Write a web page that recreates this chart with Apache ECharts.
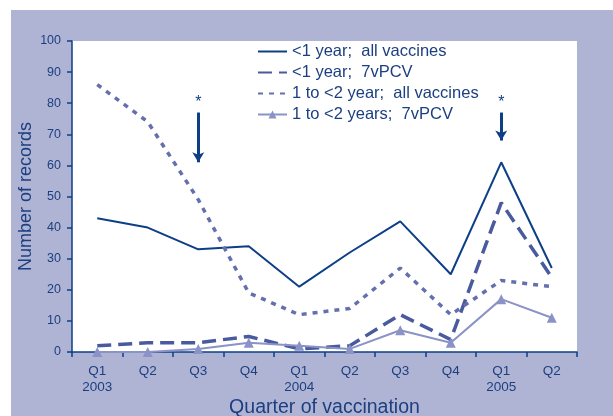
<!DOCTYPE html>
<html>
	<head>
		<meta charset="UTF-8">
		<title>Quarter of vaccination</title>
		<script type="text/javascript" src="https://cdn.jsdelivr.net/npm/echarts@6/dist/echarts.min.js"></script>
		<style>
			body{margin:0;background:#fff;}
		</style>
	</head>
	<body>
		<div id="main" style="width: 613px;height: 416px;"></div>
		<script type="text/javascript">
			// categories (quarters)
			var quarters=['Q1\n2003','Q2','Q3','Q4','Q1\n2004','Q2','Q3','Q4','Q1\n2005','Q2'];

			// series values
			var under1All=[43,40,33,34,21,32,42,25,61,27];
			var under1Pcv=[2,3,3,5,1,2,12,4,48,24];
			var oneTo2All=[86,74,49,19,12,14,27,12,23,21];
			var oneTo2Pcv=[0,0,1,3,2,1,7,3,17,11];

			// arrows marking the asterisked quarters: [category index, from, to]
			var arrows=[[2,77,61],[8,77,68]];

			var navy='#0d3f86';
			var textColor='#1c3f80';

			var myChart=echarts.init(document.getElementById('main'));

			var arrowData=arrows.map(function(a){
				return [{coord:[a[0],a[1]]},{coord:[a[0],a[2]]}];
			});

			var option={
				backgroundColor:'#ffffff',
				textStyle:{fontFamily:'Liberation Sans, Arial, sans-serif'},
				graphic:[{
					type:'rect',
					z:-10,
					shape:{x:11,y:10,width:602,height:406},
					style:{fill:'#b0b4d4'}
				}],
				grid:{
					left:72,
					top:41,
					right:36,
					bottom:64,
					outerBoundsMode:'none',
					containLabel:false,
					show:true,
					backgroundColor:'#ffffff',
					borderWidth:0
				},
				legend:{
					orient:'vertical',
					left:252,
					top:38,
					itemWidth:29,
					itemHeight:10,
					itemGap:4,
					textStyle:{color:textColor,fontSize:16.5,lineHeight:17},
					data:[
						{name:'<1 year;  all vaccines',itemStyle:{opacity:0}},
						{name:'<1 year;  7vPCV',itemStyle:{opacity:0}},
						{name:'1 to <2 year;  all vaccines',itemStyle:{opacity:0}},
						'1 to <2 years;  7vPCV'
					]
				},
				xAxis:{
					type:'category',
					data:quarters,
					boundaryGap:true,
					name:'Quarter of vaccination',
					nameLocation:'middle',
					nameGap:46,
					nameMoveOverlap:false,
					nameTextStyle:{color:textColor,fontSize:19.5},
					axisLine:{lineStyle:{color:navy,width:1.5}},
					axisTick:{show:true,length:5,lineStyle:{color:navy,width:1.5}},
					axisLabel:{color:textColor,fontSize:13.5,lineHeight:16,margin:11}
				},
				yAxis:{
					type:'value',
					min:0,
					max:100,
					interval:10,
					name:'Number of records',
					nameLocation:'middle',
					nameGap:37,
					nameMoveOverlap:false,
					nameTextStyle:{color:textColor,fontSize:18},
					splitLine:{show:false},
					axisLine:{show:true,lineStyle:{color:navy,width:1.5}},
					axisTick:{show:true,length:5,lineStyle:{color:navy,width:1.5}},
					axisLabel:{color:textColor,fontSize:12.5,margin:11}
				},
				series:[
					{
						name:'<1 year;  all vaccines',
						type:'line',
						data:under1All,
						symbol:'none',
						color:navy,
						lineStyle:{color:navy,width:2},
						markLine:{
							silent:true,
							symbol:['none','arrow'],
							symbolSize:[9,10],
							lineStyle:{color:navy,width:3,type:'solid'},
							label:{show:true,position:'start',formatter:'*',color:navy,fontSize:16,distance:2},
							data:arrowData
						}
					},
					{
						name:'<1 year;  7vPCV',
						type:'line',
						data:under1Pcv,
						symbol:'none',
						color:'#4a5a9e',
						lineStyle:{color:'#4a5a9e',width:3.5,type:[14,7]}
					},
					{
						name:'1 to <2 year;  all vaccines',
						type:'line',
						data:oneTo2All,
						symbol:'none',
						color:'#6470ad',
						lineStyle:{color:'#6470ad',width:3.5,type:[5,6]}
					},
					{
						name:'1 to <2 years;  7vPCV',
						type:'line',
						data:oneTo2Pcv,
						symbol:'triangle',
						symbolSize:10,
						color:'#8b92c6',
						itemStyle:{color:'#8b92c6'},
						lineStyle:{color:'#8b92c6',width:2}
					}
				]
			};

			myChart.setOption(option);
		</script>
	</body>
</html>
